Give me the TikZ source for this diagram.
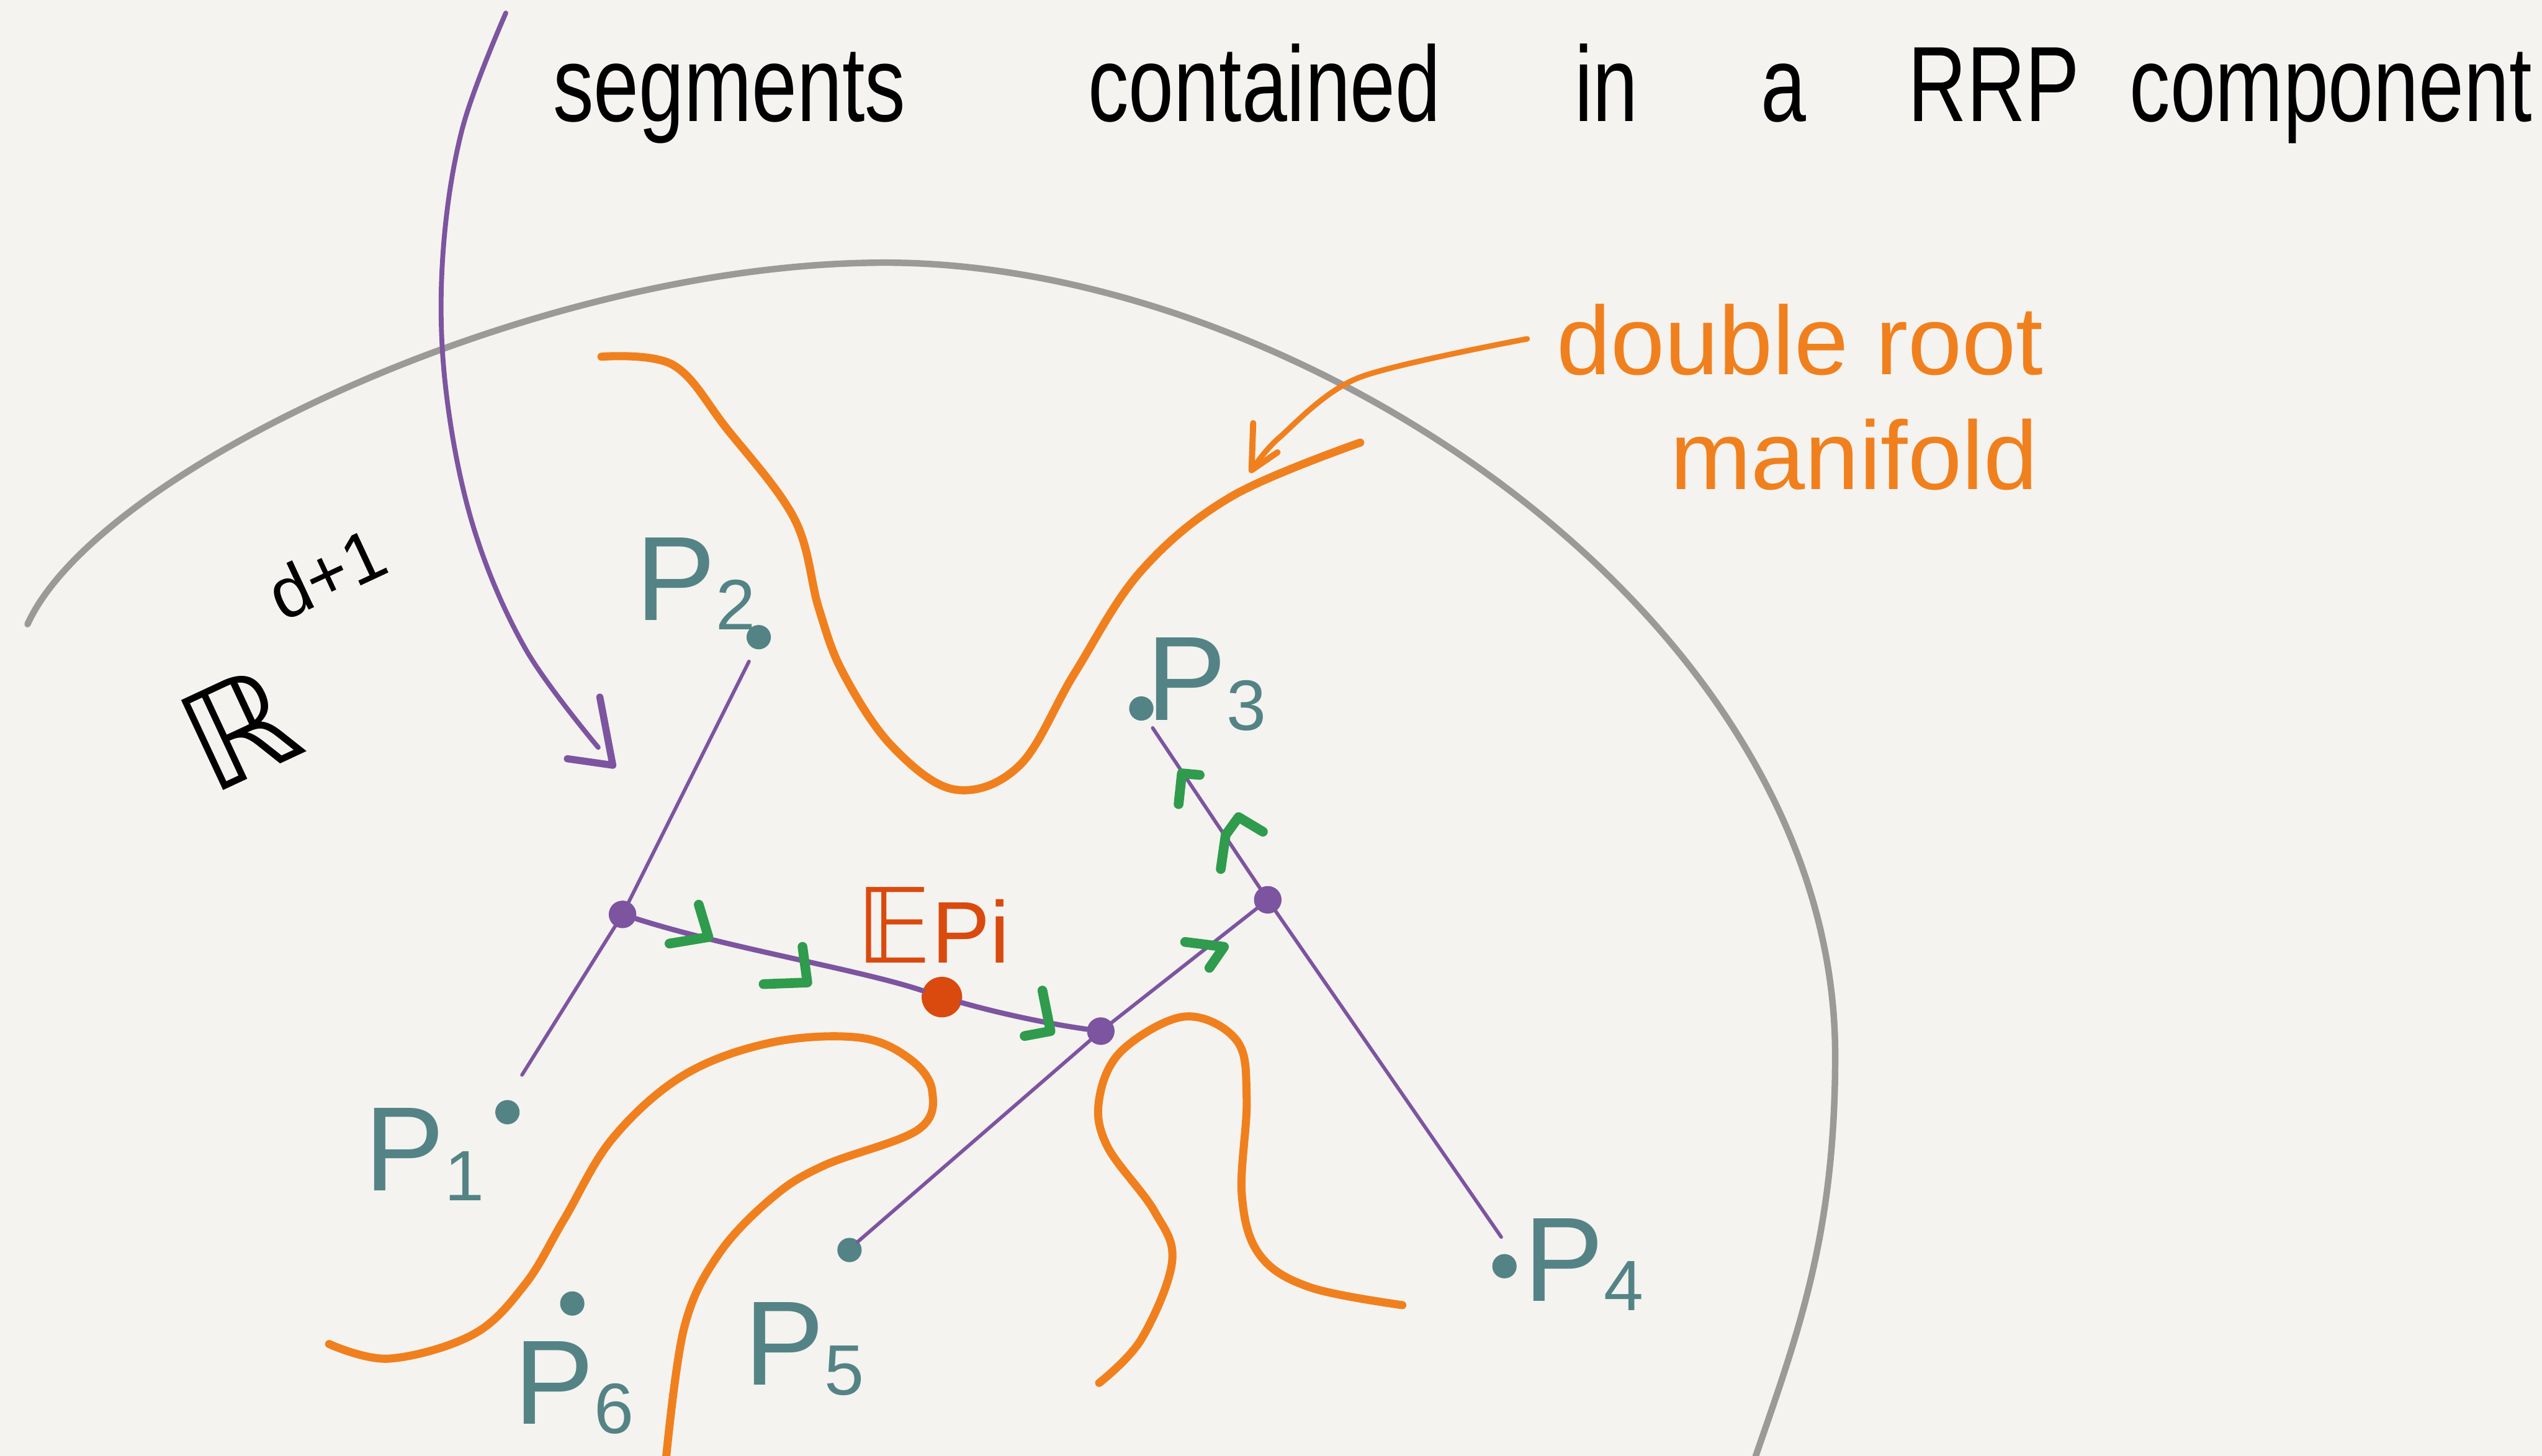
\documentclass[tikz,border=0pt]{standalone}
\usepackage{fontspec}
\setmainfont{Liberation Sans}
\newfontfamily\handfont[FakeStretch=0.76]{Liberation Sans}
\newfontfamily\symfont{DejaVu Sans}
\definecolor{paper}{RGB}{244,243,239}
\definecolor{rim}{RGB}{154,154,152}
\definecolor{segpurple}{RGB}{125,84,160}
\definecolor{rootorange}{RGB}{240,128,30}
\definecolor{ptteal}{RGB}{84,131,134}
\definecolor{meanred}{RGB}{218,74,14}
\definecolor{flowgreen}{RGB}{47,155,76}
\tikzset{
  titleword/.style={anchor=base,inner sep=0pt,font=\handfont\fontsize{66}{78}\selectfont},
  rootword/.style={anchor=base west,inner sep=0pt,text=rootorange,font=\fontsize{60}{72}\selectfont},
  rootcurve/.style={draw=rootorange,line width=5pt,line cap=round,line join=round},
  segline/.style={draw=segpurple,line width=2.2pt,line cap=round},
  flowtick/.style={draw=flowgreen,line width=6pt,line cap=round,line join=round},
  ptdot/.style={circle,fill=ptteal,inner sep=0pt,minimum size=15pt},
  joint/.style={circle,fill=segpurple,inner sep=0pt,minimum size=17pt},
  plabel/.style={text=ptteal,inner sep=0pt,font=\fontsize{74}{76}\selectfont},
}
\newcommand{\ptname}[1]{P\raisebox{-0.08em}{\fontsize{44}{44}\selectfont #1}}
\begin{document}
\begin{tikzpicture}[x=1pt,y=-1pt]
\path[use as bounding box,fill=paper] (0,0) rectangle (1568,898);
\node[titleword] (wsegments) at (450,75) {segments};
\node[titleword] (wcontained) at (780,75) {contained};
\node[titleword] (win) at (991,75) {in};
\node[titleword] (wa) at (1100,75) {a};
\node[titleword] (wrrp) at (1230,75) {RRP};
\node[titleword,anchor=base east] (wcomponent) at (1562,75) {component};
\draw[rim,line width=4pt,line cap=round] (17,385) .. controls (60,290) and (330,162) .. (546,162) .. controls (800,162) and (1132,380) .. (1132,651) .. controls (1132,760) and (1110,820) .. (1083,898);
\node[rotate=25,anchor=base west,inner sep=0pt,font=\symfont\fontsize{84}{84}\selectfont] (space) at (130,491) {ℝ};
\node[rotate=25,anchor=base west,inner sep=0pt,font=\fontsize{44}{44}\selectfont] (spacedim) at (174,384) {d+1};
\node[rootword] (wdouble) at (960,231) {double root};
\node[rootword] (wmanifold) at (1030,302) {manifold};
\coordinate (rootfrom) at (942,209);
\coordinate (roottip) at (772,290);
\draw[rootcurve,line width=3.4pt] plot[smooth] coordinates {(rootfrom) (838,233) (789,270) (roottip)};
\draw[rootcurve,line width=3.8pt] (773,261) -- (roottip) -- (788,279);
\draw[rootcurve] plot[smooth,tension=0.6] coordinates {(371,220) (415,225) (448,264) (490,320) (505,375) (520,415) (550,460) (589,487) (629,472) (663,415) (704,352) (760,306) (839,273)};
\draw[rootcurve] plot[smooth,tension=0.6] coordinates {(203,829) (240,838) (292,823) (324,792) (348,752) (378,702) (422,663) (476,643) (530,640) (561,653) (575,673) (566,697) (508,719) (476,739) (443,774) (422,819) (411,898)};
\draw[rootcurve] plot[smooth,tension=0.6] coordinates {(678,853) (704,826) (723,778) (712,747) (683,707) (678,678) (692,648) (731,627) (763,642) (769,678) (766,737) (777,774) (808,794) (865,805)};
\coordinate (arrowtail) at (312,8);
\coordinate (arrowend) at (369,461);
\draw[segline,line width=3pt] plot[smooth,tension=0.6] coordinates {(arrowtail) (285,80) (273,160) (275,240) (292,325) (324,400) (arrowend)};
\draw[segline,line width=4.4pt,line join=round] (370,430) -- (378,472) -- (350,468);
\node[ptdot] (p2) at (468,393) {};
\node[ptdot] (p3) at (704,437) {};
\node[ptdot] (p1) at (313,686) {};
\node[ptdot] (p5) at (524,771) {};
\node[ptdot] (p6) at (353,804) {};
\node[ptdot] (p4) at (928,781) {};
\coordinate (s2) at (462,408);
\coordinate (s1) at (322,663);
\coordinate (s3) at (711,449);
\coordinate (s4) at (926,763);
\coordinate (s5) at (529,766);
\node[joint] (ja) at (384,564) {};
\node[joint] (jb) at (679,636) {};
\node[joint] (jc) at (782,555) {};
\node[circle,fill=meanred,inner sep=0pt,minimum size=25pt] (mean) at (581,615) {};
\draw[segline] (s2) -- (ja.center) -- (s1);
\draw[segline] (s5) -- (jb.center) -- (jc.center);
\draw[segline] (s3) -- (jc.center) -- (s4);
\draw[segline,line width=3.2pt] (ja) .. controls (450,585) and (530,598) .. (mean);
\draw[segline,line width=3.2pt] (mean) .. controls (620,626) and (650,632) .. (jb);
\node[plabel] (l2) at (429,360) {\ptname{2}};
\node[plabel] (l3) at (744,422) {\ptname{3}};
\node[plabel] (l1) at (262,712) {\ptname{1}};
\node[plabel] (l6) at (354,856) {\ptname{6}};
\node[plabel] (l5) at (496,832) {\ptname{5}};
\node[plabel] (l4) at (977,780) {\ptname{4}};
\node[anchor=base west,inner sep=0pt,text=meanred,font=\fontsize{54}{60}\selectfont] (meanlabel) at (528,594) {{\symfont\fontsize{64}{64}\selectfont 𝔼}Pi};
\draw[flowtick] (431,558) -- (437,578) -- (413,582);
\draw[flowtick] (495,584) -- (498,606) -- (471,607);
\draw[flowtick] (643,611) -- (648,636) -- (632,639);
\draw[flowtick] (731,581) -- (755,584) -- (746,597);
\draw[flowtick] (753,536) -- (756,515) -- (764,504) -- (779,513);
\draw[flowtick] (727,496) -- (729,477) -- (740,478);
\end{tikzpicture}
\end{document}
